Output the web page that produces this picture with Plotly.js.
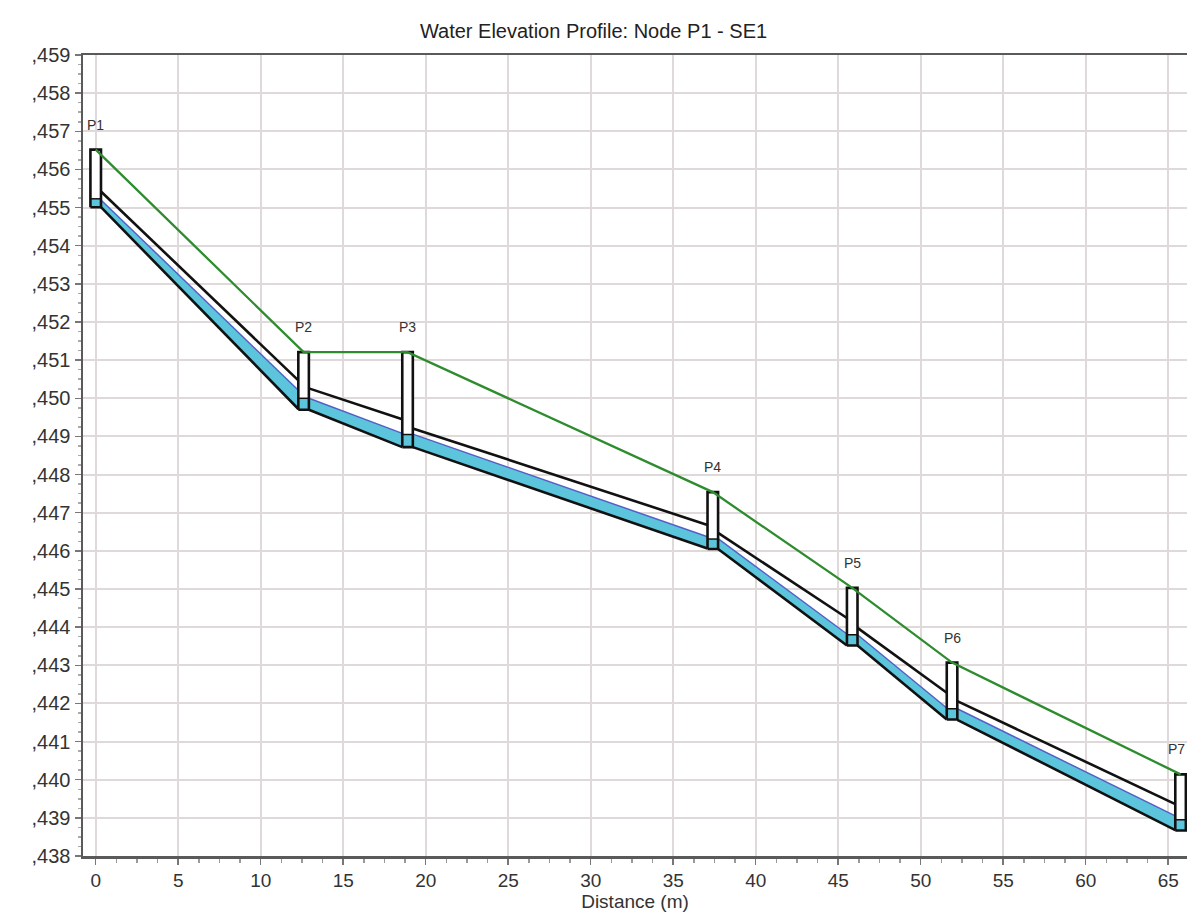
<!DOCTYPE html>
<html>
<head>
<meta charset="utf-8">
<script src="https://cdn.plot.ly/plotly-3.0.1.min.js"></script>
<style>html,body{margin:0;padding:0;background:#fff;}#chart{width:1187px;height:915px;}</style>
</head>
<body>
<div id="chart"></div>
<script>
// ---- Data ----
const nodeNames = ['P1', 'P2', 'P3', 'P4', 'P5', 'P6', 'P7'];
const nodeDistance = [0, 12.6, 18.9, 37.4, 45.85, 51.9, 65.75];
const rimElevation = [456.52, 451.21, 451.21, 447.54, 445.03, 443.07, 440.14];
const sumpElevation = [455.01, 449.70, 448.72, 446.05, 443.52, 441.58, 438.67];
const nodeWaterElevation = [455.23, 450.00, 449.05, 446.31, 443.80, 441.86, 438.95];

// pipes: from node i to node i+1
const pipeUpInvert = [455.01, 449.70, 448.72, 446.05, 443.52, 441.57];
const pipeDnInvert = [449.72, 448.72, 446.06, 443.52, 441.58, 438.68];
const pipeUpCrown = [455.42, 450.26, 449.21, 446.47, 443.98, 442.06];
const pipeDnCrown = [450.47, 449.45, 446.68, 444.24, 442.28, 439.36];
const pipeUpWater = [455.20, 450.00, 449.06, 446.32, 443.80, 441.86];
const pipeDnWater = [450.21, 449.08, 446.37, 443.82, 441.88, 439.05];

const yTickVals = [438, 439, 440, 441, 442, 443, 444, 445, 446, 447, 448, 449, 450, 451, 452, 453, 454, 455, 456, 457, 458, 459];
const yTickText = [',438', ',439', ',440', ',441', ',442', ',443', ',444', ',445', ',446', ',447', ',448', ',449', ',450', ',451', ',452', ',453', ',454', ',455', ',456', ',457', ',458', ',459'];
const xTickVals = [0, 5, 10, 15, 20, 25, 30, 35, 40, 45, 50, 55, 60, 65];

// ---- Styles ----
const manholeHalfWidth = 0.32;
const BLACK = '#111111';
const CYAN = 'rgb(92,197,219)';
const WATERLINE = 'rgb(85,95,200)';
const GREEN = 'rgb(46,140,46)';
const FONT = '"Liberation Sans", Arial, sans-serif';

const traces = [];
const base = {type: 'scatter', mode: 'lines', hoverinfo: 'skip', showlegend: false};

// pipes
for (let i = 0; i < pipeUpInvert.length; i++) {
  const xs = nodeDistance[i] + manholeHalfWidth;
  const xe = nodeDistance[i + 1] - manholeHalfWidth;
  traces.push(Object.assign({}, base, {
    x: [xs, xe, xe, xs, xs],
    y: [pipeUpInvert[i], pipeDnInvert[i], pipeDnWater[i], pipeUpWater[i], pipeUpInvert[i]],
    fill: 'toself', fillcolor: CYAN, line: {width: 0}
  }));
  traces.push(Object.assign({}, base, {
    x: [xs, xe], y: [pipeUpWater[i], pipeDnWater[i]], line: {color: WATERLINE, width: 1.5}
  }));
  traces.push(Object.assign({}, base, {
    x: [xs, xe], y: [pipeUpCrown[i], pipeDnCrown[i]], line: {color: BLACK, width: 2.6}
  }));
  traces.push(Object.assign({}, base, {
    x: [xs, xe], y: [pipeUpInvert[i], pipeDnInvert[i]], line: {color: BLACK, width: 2.6}
  }));
}

// manholes
for (let i = 0; i < nodeNames.length; i++) {
  const x0 = nodeDistance[i] - manholeHalfWidth;
  const x1 = nodeDistance[i] + manholeHalfWidth;
  traces.push(Object.assign({}, base, {
    x: [x0, x1, x1, x0, x0], y: [sumpElevation[i], sumpElevation[i], rimElevation[i], rimElevation[i], sumpElevation[i]],
    fill: 'toself', fillcolor: '#ffffff', line: {width: 0}
  }));
  traces.push(Object.assign({}, base, {
    x: [x0, x1, x1, x0, x0], y: [sumpElevation[i], sumpElevation[i], nodeWaterElevation[i], nodeWaterElevation[i], sumpElevation[i]],
    fill: 'toself', fillcolor: CYAN, line: {width: 0}
  }));
  traces.push(Object.assign({}, base, {
    x: [x0, x1], y: [nodeWaterElevation[i], nodeWaterElevation[i]], line: {color: BLACK, width: 1.5}
  }));
  traces.push(Object.assign({}, base, {
    x: [x0, x1, x1, x0, x0], y: [sumpElevation[i], sumpElevation[i], rimElevation[i], rimElevation[i], sumpElevation[i]],
    line: {color: BLACK, width: 2.6}
  }));
}

// ground / rim line
traces.push(Object.assign({}, base, {
  x: nodeDistance, y: rimElevation, line: {color: GREEN, width: 2.3}
}));

const annotations = nodeNames.map((n, i) => ({
  x: nodeDistance[i], y: rimElevation[i], xref: 'x', yref: 'y',
  text: n, showarrow: false, yanchor: 'middle', yshift: 25,
  xshift: i === nodeNames.length - 1 ? -4 : 0,
  font: {family: FONT, size: 14, color: '#333'}
}));

const layout = {
  width: 1187, height: 915,
  paper_bgcolor: '#ffffff', plot_bgcolor: '#ffffff',
  margin: {l: 83, r: 0, t: 55, b: 59},
  title: {text: 'Water Elevation Profile: Node P1 - SE1', x: 0.5, xref: 'container', y: 1 - 31 / 915, yref: 'container', yanchor: 'middle',
    font: {family: FONT, size: 20, color: '#222'}},
  xaxis: {
    range: [-0.77, 66.14], tickvals: xTickVals, ticks: 'outside', ticklen: 6, tickcolor: '#777', tickwidth: 1.5,
    showgrid: true, gridcolor: 'rgb(224,217,217)', gridwidth: 2, zeroline: false,
    showline: true, linecolor: '#5a5a5a', linewidth: 2.5, mirror: true,
    tickfont: {family: FONT, size: 19, color: '#333'},
    minor: {dtick: 1.25, tick0: 0, ticks: 'outside', ticklen: 4, tickcolor: '#999', showgrid: false},
    title: {text: 'Distance (m)', font: {family: FONT, size: 19, color: '#333'}, standoff: 0}
  },
  yaxis: {
    range: [438, 459], tickvals: yTickVals, ticktext: yTickText, ticks: 'outside', ticklen: 6, tickcolor: '#777', tickwidth: 1.5,
    showgrid: true, gridcolor: 'rgb(224,217,217)', gridwidth: 2, zeroline: false,
    showline: true, linecolor: '#5a5a5a', linewidth: 2.5,
    tickfont: {family: FONT, size: 20, color: '#333'},
    minor: {dtick: 0.25, tick0: 438, ticks: 'outside', ticklen: 3, tickcolor: '#aaa', showgrid: false}
  },
  annotations: annotations
};

Plotly.newPlot('chart', traces, layout, {displayModeBar: false, staticPlot: true});
</script>
</body>
</html>
